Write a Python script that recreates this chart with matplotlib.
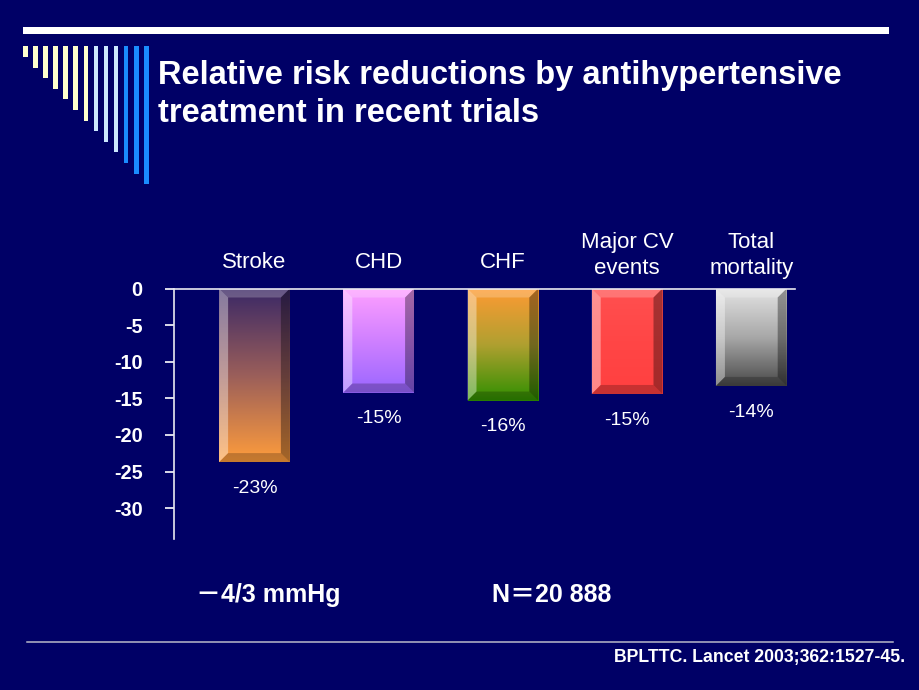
import numpy as np
import matplotlib
matplotlib.use('Agg')
import matplotlib.pyplot as plt
from matplotlib.patches import Polygon, Rectangle
from matplotlib.lines import Line2D
from matplotlib.colors import LinearSegmentedColormap

# values
categories = ['Stroke', 'CHD', 'CHF', 'Major CV\nevents', 'Total\nmortality']
reduction = [-23.7, -14.2, -15.3, -14.4, -13.3]
value_labels = ['-23%', '-15%', '-16%', '-15%', '-14%']
yticks = [0, -5, -10, -15, -20, -25, -30]

# top -> bottom gradient colours of each bar
bar_grads = [
    ['#3a2866', '#9a5e5a', '#ff9d3c'],
    ['#ffa0ff', '#d080ff', '#9966ff'],
    ['#ff9a33', '#b0a030', '#2f8f00'],
    ['#ff5050', '#ff4646', '#ff4040'],
    ['#e4e4e4', '#a8a8a8', '#4a4a4a'],
]

bg = '#000066'
W, H = 920, 690
plt.rcParams['font.family'] = ['Liberation Sans', 'Noto Sans CJK SC', 'DejaVu Sans']

fig = plt.figure(figsize=(9.2, 6.9), dpi=100, facecolor=bg)


def fx(x):
    return x / W


def fy(y):
    return 1 - y / H


# slide decoration: white rule and stepped vertical bars
fig.add_artist(Rectangle((fx(23), fy(34)), fx(889) - fx(23), fy(27) - fy(34),
                         transform=fig.transFigure, color='white', lw=0))
deco_cols = ['#ffffcc'] * 7 + ['#cce8ff'] * 3 + ['#1a8cff'] * 3
for i, c in enumerate(deco_cols):
    x0 = 23 + 10.1 * i
    bot = 57 + 10.6 * i
    fig.add_artist(Rectangle((fx(x0), fy(bot)), fx(4.5), fy(46) - fy(bot),
                             transform=fig.transFigure, color=c, lw=0))

# title
fig.text(fx(158), fy(84), 'Relative risk reductions by antihypertensive',
         color='white', fontsize=23.5, fontweight='bold', va='baseline')
fig.text(fx(158), fy(122), 'treatment in recent trials',
         color='white', fontsize=23.5, fontweight='bold', va='baseline')

# chart
ax = fig.add_axes([fx(174), fy(539), fx(795) - fx(174), fy(288.5) - fy(539)])
ax.set_facecolor(bg)
x = np.arange(len(categories))
bw = 0.57
bars = ax.bar(x, reduction, width=bw, color='none', edgecolor='none', zorder=2)

bx = 9 / 124.2
by = 9 / 7.32
grad = np.linspace(0, 1, 256).reshape(-1, 1)
for b, cols in zip(bars, bar_grads):
    x0 = b.get_x()
    x1 = x0 + b.get_width()
    y1 = b.get_y()
    y0 = y1 + b.get_height()
    cmap = LinearSegmentedColormap.from_list('g', cols)
    im = ax.imshow(grad, extent=[x0, x1, y0, y1], origin='upper', aspect='auto',
                   cmap=cmap, zorder=2, interpolation='bilinear')
    im.set_clip_path(b)
    # bevel faces
    left = [(x0, y1), (x0 + bx, y1 - by), (x0 + bx, y0 + by), (x0, y0)]
    top = [(x0, y1), (x1, y1), (x1 - bx, y1 - by), (x0 + bx, y1 - by)]
    right = [(x1, y1), (x1, y0), (x1 - bx, y0 + by), (x1 - bx, y1 - by)]
    bottom = [(x0, y0), (x1, y0), (x1 - bx, y0 + by), (x0 + bx, y0 + by)]
    ax.add_patch(Polygon(left, closed=True, color='white', alpha=0.38, lw=0, zorder=3))
    ax.add_patch(Polygon(top, closed=True, color='white', alpha=0.22, lw=0, zorder=3))
    ax.add_patch(Polygon(right, closed=True, color='black', alpha=0.35, lw=0, zorder=3))
    ax.add_patch(Polygon(bottom, closed=True, color='black', alpha=0.22, lw=0, zorder=3))

for xi, v, lab in zip(x, reduction, value_labels):
    ax.annotate(lab, (xi, v), xytext=(0, -19), textcoords='offset points',
                ha='center', va='center', color='white', fontsize=14)

for xi, cat in zip(x, categories):
    off = 7 if '\n' in cat else 11
    ax.annotate(cat, (xi, 0), xytext=(0, off), textcoords='offset points',
                ha='center', va='bottom', color='white', fontsize=16,
                linespacing=1.3, annotation_clip=False)

ax.set_xlim(-80.5 / 124.2, (621 - 80.5) / 124.2)
ax.set_ylim(-34.2, 0)
ax.set_xticks([])
ax.set_yticks(yticks)
ax.set_yticklabels([str(t) for t in yticks])
ax.tick_params(axis='y', colors='white', length=6.5, width=1.2, pad=16,
               labelsize=14.3)
for t in ax.get_yticklabels():
    t.set_fontweight('bold')
for s in ['right', 'bottom']:
    ax.spines[s].set_visible(False)
for s in ['left', 'top']:
    ax.spines[s].set_color('#e8e8f0')
    ax.spines[s].set_linewidth(1.2)
    ax.spines[s].set_zorder(4)

# bottom notes
fig.text(fx(196), fy(602), '－4/3 mmHg', color='white', fontsize=18,
         fontweight='bold', va='baseline')
fig.text(fx(492), fy(602), 'N＝20 888', color='white', fontsize=18,
         fontweight='bold', va='baseline')
fig.add_artist(Line2D([fx(27), fx(893)], [fy(641.5), fy(641.5)],
                      transform=fig.transFigure, color='#b8b8c8', lw=1.1))
fig.text(fx(905), fy(662), 'BPLTTC. Lancet 2003;362:1527-45.', color='white',
         fontsize=12.7, fontweight='bold', ha='right', va='baseline')

fig.savefig('out.png', dpi=100, facecolor=bg)
